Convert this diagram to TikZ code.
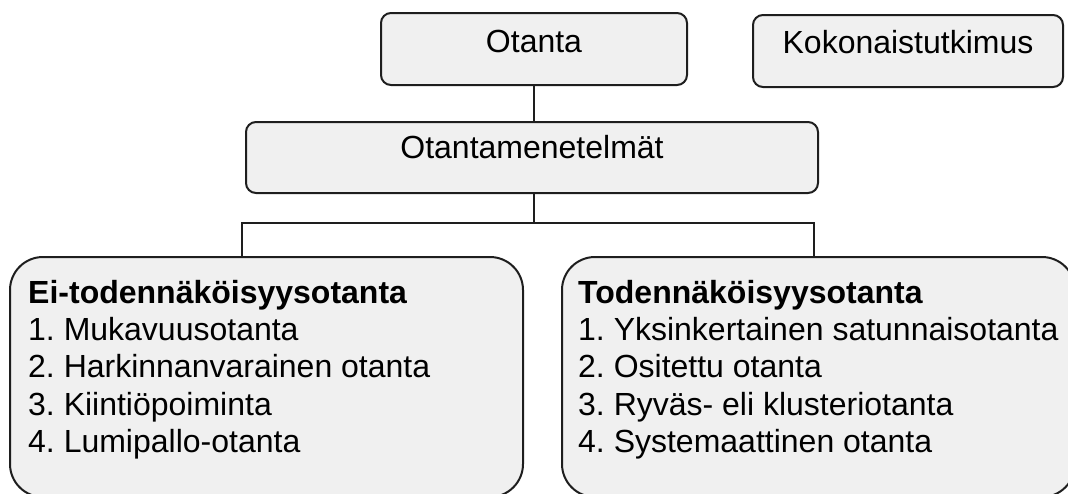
\documentclass[tikz,border=0pt]{standalone}
\usepackage{fontspec}
\setmainfont{Liberation Sans}
\frenchspacing
\definecolor{boxfill}{HTML}{F0F0F0}
\definecolor{boxline}{HTML}{1E1E1E}
\tikzset{
  smallbox/.style={draw=boxline, fill=boxfill, line width=2pt, rounded corners=10pt,
    inner xsep=0pt, inner ysep=0pt, text=black,
    font=\fontsize{32}{37}\selectfont},
  bigbox/.style={draw=boxline, fill=boxfill, line width=2pt, rounded corners=33pt,
    inner sep=0pt, minimum width=513pt, minimum height=240pt},
  listtext/.style={inner sep=0pt, align=left, anchor=north west, text=black,
    font=\fontsize{32}{37.3}\selectfont\frenchspacing},
  conn/.style={draw=boxline, line width=2pt}
}
\begin{document}
\begin{tikzpicture}[x=1pt,y=-1pt]
\useasboundingbox (0,0) rectangle (1068,493);
\clip (0,0) rectangle (1068,493);
% top boxes
\node[smallbox, minimum width=306pt, text height=39pt, text depth=33pt] (otanta) at (534,49) {Otanta};
\node[smallbox, minimum width=310pt, text height=38pt, text depth=34pt] (koko) at (908,51) {Kokonaistutkimus};
\node[smallbox, minimum width=572pt, text height=36pt, text depth=35pt] (menet) at (532,157.5) {Otantamenetelmät};
% big boxes
\node[bigbox] (eibox) at (266.5,377) {};
\node[bigbox] (tobox) at (818.5,377) {};
\node[listtext] (eitext) at (28,280) {\textbf{Ei-todennäköisyysotanta}\\1. Mukavuusotanta\\2. Harkinnanvarainen otanta\\3. Kiintiöpoiminta\\4. Lumipallo-otanta};
\node[listtext] (totext) at (578,280) {\textbf{Todennäköisyysotanta}\\1. Yksinkertainen satunnaisotanta\\2. Ositettu otanta\\3. Ryväs- eli klusteriotanta\\4. Systemaattinen otanta};
% connectors
\coordinate (jn) at (534,223);
\coordinate (lj) at (242,223);
\coordinate (rj) at (814,223);
\draw[conn] (otanta.south) -- (otanta.south |- menet.north);
\draw[conn] (jn |- menet.south) -- (jn);
\draw[conn] (lj |- eibox.north) -- (lj) -- (rj) -- (rj |- tobox.north);
\end{tikzpicture}
\end{document}
